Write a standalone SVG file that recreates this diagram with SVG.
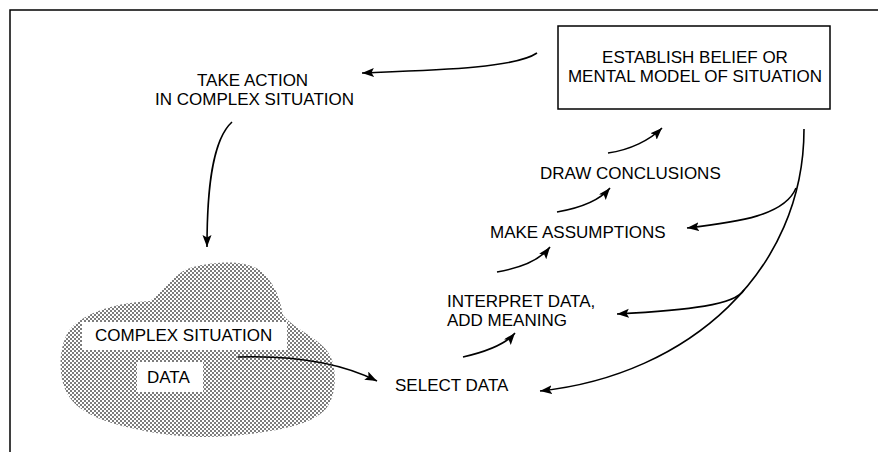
<svg xmlns="http://www.w3.org/2000/svg" width="878" height="452" viewBox="0 0 878 452">
  <style>
    text { font-family: "Liberation Sans", Arial, sans-serif; font-size: 17px; fill: #000; }
    .frame { fill: none; stroke: #000; stroke-width: 1.5; }
    .conn { fill: none; stroke: #000; stroke-width: 1.6; }
    .arrow { marker-end: url(#head); }
    .label-bg { fill: #fff; }
  </style>
  <defs>
    <marker id="head" markerUnits="userSpaceOnUse" markerWidth="14" markerHeight="10" refX="12" refY="4.5" orient="auto">
      <path d="M0,0 L12,4.5 L0,9 L2.5,4.5 Z" fill="#000"/>
    </marker>
    <!-- halftone stipple used for the cloud -->
    <pattern id="stipple" width="4" height="4" patternUnits="userSpaceOnUse">
      <rect width="4" height="4" fill="#fff"/>
      <rect x="0.2" y="0.2" width="1.6" height="1.6" fill="#333"/>
      <rect x="2.2" y="2.2" width="1.6" height="1.6" fill="#333"/>
    </pattern>
  </defs>

  <rect width="878" height="452" fill="#fff"/>

  <!-- page frame: top and left edges -->
  <path class="frame" d="M10,452 L10,10 L878,10"/>

  <g id="belief">
    <rect x="558" y="26" width="272" height="83" fill="#fff" stroke="#000" stroke-width="1.5"/>
    <text text-anchor="middle"><tspan x="695" y="63">ESTABLISH BELIEF OR</tspan><tspan x="695" y="82">MENTAL MODEL OF SITUATION</tspan></text>
  </g>

  <g id="take-action">
    <text><tspan x="197" y="85.5">TAKE ACTION</tspan><tspan x="155" y="105">IN COMPLEX SITUATION</tspan></text>
  </g>

  <g id="complex-situation">
    <path d="M150,301 C165,290 175,270 197,266 C217,262 250,258 265,275 C277,288 280,300 283,315 C295,330 320,338 330,355 C338,372 336,398 325,410 C310,425 280,430 250,434 C215,439 175,438 140,430 C110,424 80,415 68,395 C58,378 58,350 68,332 C80,315 110,303 150,301 Z" fill="url(#stipple)"/>
    <rect class="label-bg" x="82" y="322" width="205" height="28"/>
    <text x="95" y="341">COMPLEX SITUATION</text>
    <rect class="label-bg" x="137" y="362" width="66" height="30"/>
    <text x="147" y="383">DATA</text>
  </g>

  <g id="select-data">
    <text x="395" y="391">SELECT DATA</text>
  </g>

  <g id="interpret-data">
    <text><tspan x="447" y="307">INTERPRET DATA,</tspan><tspan x="447" y="326">ADD MEANING</tspan></text>
  </g>

  <g id="make-assumptions">
    <text x="490" y="238">MAKE ASSUMPTIONS</text>
  </g>

  <g id="draw-conclusions">
    <text x="540" y="179">DRAW CONCLUSIONS</text>
  </g>

  <g id="connectors">
    <path class="conn arrow" d="M537,53 C515,68 440,70 362,73"/>
    <path class="conn arrow" d="M232,122 C212,140 207,190 207,247"/>
    <path class="conn arrow" d="M238,357 C300,355 345,365 377,381"/>
    <path class="conn arrow" d="M463,357 C485,352 505,345 515,333"/>
    <path class="conn arrow" d="M497,272 C520,268 540,260 550,247"/>
    <path class="conn arrow" d="M557,212 C580,208 600,200 610,188"/>
    <path class="conn arrow" d="M608,153 C630,150 650,140 662,128"/>
    <path class="conn arrow" d="M804,129 C804,270 690,375 540,391"/>
    <path class="conn arrow" d="M796,188 C785,215 740,222 687,228"/>
    <path class="conn arrow" d="M744,290 C735,305 690,310 617,314"/>
  </g>
</svg>
